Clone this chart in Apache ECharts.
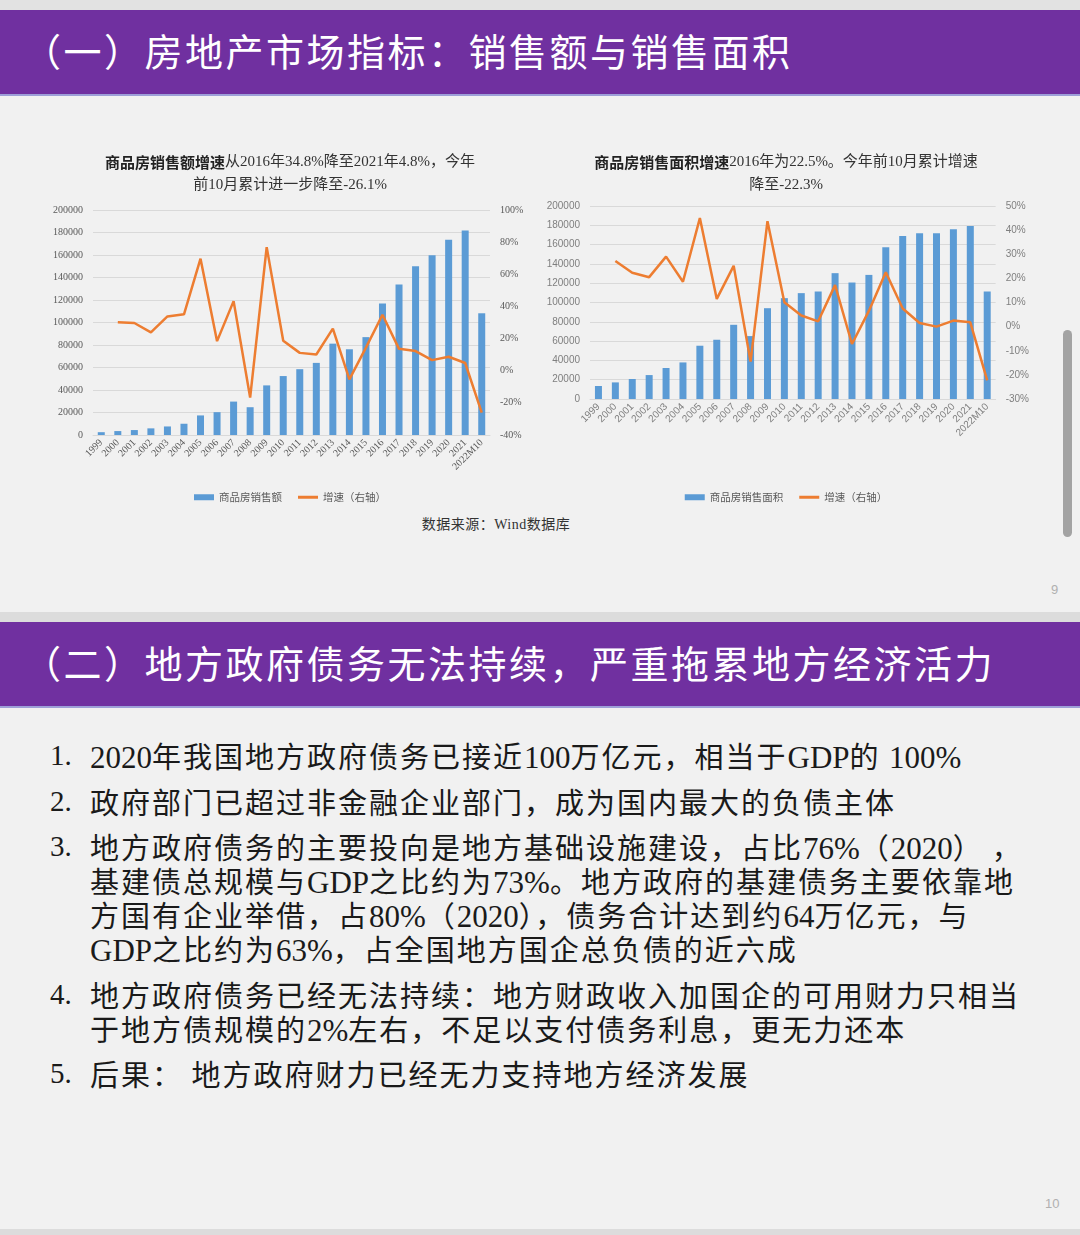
<!DOCTYPE html>
<html><head><meta charset="utf-8">
<script src="https://cdn.jsdelivr.net/npm/echarts@6/dist/echarts.min.js"></script>
<style>
body{margin:0;width:1080px;height:1235px;background:#f1f1f1;position:relative;overflow:hidden;font-family:"Liberation Serif","Noto Sans CJK SC",serif;}
.strip{position:absolute;left:0;width:1080px;background:#dcdcdc;}
.banner{position:absolute;left:0;width:1080px;height:84px;background:#7030a0;border-bottom:2px solid #9d9fd8;color:#fff;font-family:"Noto Sans CJK SC",sans-serif;font-size:38px;letter-spacing:2.5px;line-height:84px;white-space:nowrap;}
.banner span{position:absolute;left:23px;top:-2px;}
.ln{position:absolute;left:90px;white-space:nowrap;font-size:29px;letter-spacing:2px;line-height:34px;color:#1a1a1a;font-family:"Noto Sans CJK SC",sans-serif;}
.la{font-family:"Liberation Serif",serif;font-size:31px;letter-spacing:0;}
.num{position:absolute;left:50px;font-family:"Liberation Serif",serif;font-size:29px;line-height:34px;color:#1a1a1a;}
.pg{position:absolute;font-family:"Liberation Sans",sans-serif;font-size:13px;color:#b0b0b0;}
#c1{position:absolute;left:40px;top:140px;width:500px;height:370px;}
#c2{position:absolute;left:540px;top:140px;width:492px;height:370px;}
.src{position:absolute;left:346px;width:300px;top:515px;text-align:center;font-size:14px;letter-spacing:0.5px;line-height:20px;color:#333;font-family:"Liberation Serif","Noto Sans CJK SC",serif;}
.scroll{position:absolute;left:1063px;top:330px;width:9px;height:207px;border-radius:5px;background:#a3a3a3;}
</style></head>
<body>
<div class="strip" style="top:0;height:10px;background:#e2e2e2"></div>
<div class="banner" style="top:10px"><span>（一）房地产市场指标：销售额与销售面积</span></div>
<div id="c1"></div>
<div id="c2"></div>
<div class="src">数据来源：Wind数据库</div>
<div class="pg" style="left:1051px;top:582px">9</div>
<div class="scroll"></div>
<div class="strip" style="top:612px;height:10px"></div>
<div class="banner" style="top:622px"><span>（二）地方政府债务无法持续，严重拖累地方经济活力</span></div>

<div class="num" style="top:738px">1.</div>
<div class="ln" style="top:738px"><span class="la">2020</span>年我国地方政府债务已接近<span class="la">100</span>万亿元，相当于<span class="la">GDP</span>的 <span class="la">100%</span></div>
<div class="num" style="top:784px">2.</div>
<div class="ln" style="top:784px">政府部门已超过非金融企业部门，成为国内最大的负债主体</div>
<div class="num" style="top:829px">3.</div>
<div class="ln" style="top:829px">地方政府债务的主要投向是地方基础设施建设，占比<span class="la">76%</span>（<span class="la">2020</span>）<span class="la"> </span>，</div>
<div class="ln" style="top:863px">基建债总规模与<span class="la">GDP</span>之比约为<span class="la">73%</span>。地方政府的基建债务主要依靠地</div>
<div class="ln" style="top:897px">方国有企业举借，占<span class="la">80%</span>（<span class="la">2020</span>），债务合计达到约<span class="la">64</span>万亿元，与</div>
<div class="ln" style="top:931px"><span class="la">GDP</span>之比约为<span class="la">63%</span>，占全国地方国企总负债的近六成</div>
<div class="num" style="top:977px">4.</div>
<div class="ln" style="top:977px">地方政府债务已经无法持续：地方财政收入加国企的可用财力只相当</div>
<div class="ln" style="top:1011px">于地方债规模的<span class="la">2%</span>左右，不足以支付债务利息，更无力还本</div>
<div class="num" style="top:1056px">5.</div>
<div class="ln" style="top:1056px">后果： 地方政府财力已经无力支持地方经济发展</div>
<div class="pg" style="left:1045px;top:1196px">10</div>
<div class="strip" style="top:1229px;height:6px"></div>

<script>
const categories = ['1999','2000','2001','2002','2003','2004','2005','2006','2007','2008','2009','2010','2011','2012','2013','2014','2015','2016','2017','2018','2019','2020','2021','2022M10'];
const salesAmount = [2500, 3500, 4400, 5900, 7600, 10000, 17400, 20300, 29700, 24700, 44100, 52400, 58500, 64100, 81200, 76200, 87000, 117000, 133800, 150000, 159700, 173500, 181800, 108200];
const salesAmountGrowth = [null, 30.1, 29.7, 23.9, 33.8, 35.1, 69.7, 18.4, 43.3, -16.7, 76.9, 18.6, 11.1, 10.1, 26.2, -5.4, 14.4, 34.8, 13.6, 12.2, 6.6, 8.7, 4.8, -26.1];
const salesArea = [13500, 17200, 20700, 24800, 32100, 37900, 55200, 61400, 76900, 65200, 94100, 104500, 109700, 111400, 130400, 120700, 128600, 157200, 169000, 171700, 171700, 175900, 179300, 111400];
const salesAreaGrowth = [null, 27.2, 22.3, 20.5, 29.0, 18.6, 45.0, 11.5, 25.2, -14.5, 43.7, 10.1, 4.6, 2.2, 17.2, -7.2, 6.5, 22.5, 7.5, 1.5, 0.0, 2.5, 1.8, -22.3];

const title1 = '{b|商品房销售额增速}从2016年34.8%降至2021年4.8%，今年\n前10月累计进一步降至-26.1%';
const title2 = '{b|商品房销售面积增速}2016年为22.5%。今年前10月累计增速\n降至-22.3%';
const barName1 = '商品房销售额';
const barName2 = '商品房销售面积';
const lineName = '增速（右轴）';

function makeOption(cfg) {
  const lab = {fontSize: 10, color: cfg.labColor, fontFamily: cfg.labFont};
  return {
    animation: false,
    title: {
      text: cfg.title, left: 'center', top: 6,
      textStyle: {fontSize: 15, lineHeight: 23, color: '#333', fontWeight: 'normal',
        fontFamily: 'Liberation Serif, Noto Sans CJK SC',
        rich: {b: {fontSize: 15, lineHeight: 23, fontWeight: 'bold', color: '#222', fontFamily: 'Noto Sans CJK SC'}}}
    },
    legend: {
      top: 347, left: 'center', itemWidth: 20, itemHeight: 6, itemGap: 16,
      textStyle: {fontSize: 10.5, color: '#595959', fontFamily: 'Noto Sans CJK SC'},
      data: [{name: cfg.barName, icon: 'rect'},
             {name: lineName, icon: 'path://M0,0 L20,0 L20,3 L0,3 Z'}]
    },
    grid: cfg.grid,
    xAxis: {
      type: 'category', data: categories,
      axisTick: {show: false},
      axisLine: {lineStyle: {color: '#d9d9d9'}},
      axisLabel: Object.assign({rotate: 45, interval: 0, margin: 6}, lab)
    },
    yAxis: [
      {type: 'value', min: 0, max: 200000, interval: 20000,
       axisLabel: Object.assign({margin: 10, formatter: function (v) { return String(v); }}, lab),
       axisLine: {show: false}, axisTick: {show: false},
       splitLine: {lineStyle: {color: '#d9d9d9', width: 1}}},
      {type: 'value', min: cfg.rMin, max: cfg.rMax, interval: cfg.rInt,
       axisLabel: Object.assign({margin: 10, formatter: '{value}%'}, lab),
       axisLine: {show: false}, axisTick: {show: false}, splitLine: {show: false}}
    ],
    series: [
      {name: cfg.barName, type: 'bar', data: cfg.bars, barWidth: 7, itemStyle: {color: '#5B9BD5'}},
      {name: lineName, type: 'line', yAxisIndex: 1, data: cfg.line, symbol: 'none',
       lineStyle: {color: '#ED7D31', width: 2.5}, itemStyle: {color: '#ED7D31'}}
    ]
  };
}

const ch1 = echarts.init(document.getElementById('c1'));
ch1.setOption(makeOption({
  title: title1, barName: barName1, bars: salesAmount, line: salesAmountGrowth,
  grid: {left: 53, right: 50, top: 70, bottom: 75},
  rMin: -40, rMax: 100, rInt: 20, labColor: '#595959', labFont: 'Liberation Serif'
}));
const ch2 = echarts.init(document.getElementById('c2'));
ch2.setOption(makeOption({
  title: title2, barName: barName2, bars: salesArea, line: salesAreaGrowth,
  grid: {left: 50, right: 29, top: 66, bottom: 111},
  rMin: -30, rMax: 50, rInt: 10, labColor: '#7f7f7f', labFont: 'Liberation Sans'
}));
</script>
</body></html>
